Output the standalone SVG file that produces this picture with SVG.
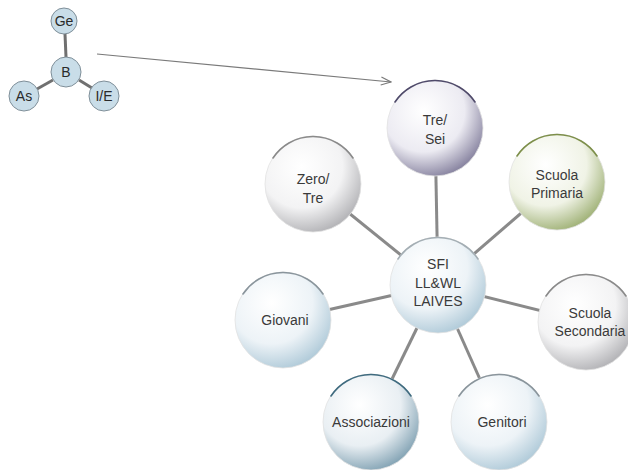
<svg xmlns="http://www.w3.org/2000/svg" width="628" height="470" viewBox="0 0 628 470">
<defs>
<radialGradient id="gGray" cx="38%" cy="32%" r="78%"><stop offset="0" stop-color="#ffffff"/><stop offset="0.55" stop-color="#f3f3f4"/><stop offset="1" stop-color="#a4a4a8"/></radialGradient>
<radialGradient id="gPurple" cx="38%" cy="32%" r="78%"><stop offset="0" stop-color="#ffffff"/><stop offset="0.55" stop-color="#ecebf2"/><stop offset="1" stop-color="#6f6a8c"/></radialGradient>
<radialGradient id="gGreen" cx="38%" cy="32%" r="78%"><stop offset="0" stop-color="#ffffff"/><stop offset="0.55" stop-color="#f0f3e6"/><stop offset="1" stop-color="#8ea35e"/></radialGradient>
<radialGradient id="gBlue" cx="38%" cy="32%" r="78%"><stop offset="0" stop-color="#ffffff"/><stop offset="0.55" stop-color="#edf3f7"/><stop offset="1" stop-color="#a2c1d2"/></radialGradient>
<radialGradient id="gTeal" cx="38%" cy="32%" r="78%"><stop offset="0" stop-color="#ffffff"/><stop offset="0.55" stop-color="#e9eff3"/><stop offset="1" stop-color="#6c92a6"/></radialGradient>
<marker id="arr" markerWidth="12" markerHeight="10" refX="11" refY="5" orient="auto" markerUnits="userSpaceOnUse"><path d="M1,1 L11,5 L1,9" fill="none" stroke="#7a7a7a" stroke-width="1.2"/></marker>
</defs>
<style>
.t{font-family:"Liberation Sans",Arial,sans-serif;font-size:14px;fill:#3a3a3a;text-anchor:middle}
.s{font-family:"Liberation Sans",Arial,sans-serif;font-size:14px;fill:#2a2a2a;text-anchor:middle}
.big{stroke:#e2e2e2;stroke-width:0.8}
.arc{fill:none;stroke-width:1.6;stroke-linecap:round}
.small{fill:#c9dde8;stroke:#7f8f99;stroke-width:1}
.sc{stroke:#707070;stroke-width:3}
.bc{stroke:#8a8a8a;stroke-width:3}
</style>
<rect width="628" height="470" fill="#ffffff"/>
<g id="connectors">
<line class="sc" x1="65" y1="34" x2="66" y2="57"/>
<line class="sc" x1="53" y1="80" x2="37" y2="89"/>
<line class="sc" x1="79" y1="80" x2="92" y2="88"/>
<line x1="97" y1="54" x2="391" y2="82" stroke="#7a7a7a" stroke-width="1.2" marker-end="url(#arr)"/>
<line class="bc" x1="438" y1="285" x2="435" y2="128"/>
<line class="bc" x1="438" y1="285" x2="557" y2="182"/>
<line class="bc" x1="438" y1="285" x2="313" y2="184"/>
<line class="bc" x1="438" y1="285" x2="586" y2="322"/>
<line class="bc" x1="438" y1="285" x2="283" y2="320"/>
<line class="bc" x1="438" y1="285" x2="371" y2="422"/>
<line class="bc" x1="438" y1="285" x2="499" y2="422"/>
</g>
<g id="ge"><circle class="small" cx="64" cy="21" r="13"/><text class="s" x="64" y="26">Ge</text></g>
<g id="b"><circle class="small" cx="66" cy="72" r="15"/><text class="s" x="66" y="77">B</text></g>
<g id="as"><circle class="small" cx="24" cy="96" r="15"/><text class="s" x="24" y="101">As</text></g>
<g id="ie"><circle class="small" cx="104" cy="96" r="15"/><text class="s" x="104" y="101">I/E</text></g>
<g id="tresei"><circle class="big" cx="435" cy="128" r="48" fill="url(#gPurple)"/><path class="arc" stroke="#4f4a6a" d="M395,102 A48,48 0 0 1 475,102"/><text class="t" x="435" y="125">Tre/</text><text class="t" x="435" y="144">Sei</text></g>
<g id="primaria"><circle class="big" cx="557" cy="182" r="48" fill="url(#gGreen)"/><path class="arc" stroke="#7d8f4a" d="M517,156 A48,48 0 0 1 597,156"/><text class="t" x="557" y="180">Scuola</text><text class="t" x="557" y="198">Primaria</text></g>
<g id="zerotre"><circle class="big" cx="313" cy="184" r="48" fill="url(#gGray)"/><path class="arc" stroke="#8a8a8a" stroke-width="1" d="M273,158 A48,48 0 0 1 353,158"/><text class="t" x="313" y="184">Zero/</text><text class="t" x="313" y="203">Tre</text></g>
<g id="sfi"><circle class="big" cx="438" cy="285" r="48" fill="url(#gBlue)"/><path class="arc" stroke="#a4aeb4" stroke-width="1" d="M398,259 A48,48 0 0 1 478,259"/><text class="t" x="438" y="269">SFI</text><text class="t" x="438" y="288">LL&amp;WL</text><text class="t" x="438" y="306">LAIVES</text></g>
<g id="secondaria"><circle class="big" cx="586" cy="322" r="48" fill="url(#gGray)"/><path class="arc" stroke="#8a8a8a" stroke-width="1" d="M546,296 A48,48 0 0 1 626,296"/><text class="t" x="590" y="318">Scuola</text><text class="t" x="590" y="336">Secondaria</text></g>
<g id="giovani"><circle class="big" cx="283" cy="320" r="48" fill="url(#gBlue)"/><path class="arc" stroke="#8a959c" stroke-width="1" d="M243,294 A48,48 0 0 1 323,294"/><text class="t" x="285" y="325">Giovani</text></g>
<g id="associazioni"><circle class="big" cx="371" cy="422" r="48" fill="url(#gTeal)"/><path class="arc" stroke="#3f6b7f" d="M331,396 A48,48 0 0 1 411,396"/><text class="t" x="371" y="427">Associazioni</text></g>
<g id="genitori"><circle class="big" cx="499" cy="422" r="48" fill="url(#gBlue)"/><path class="arc" stroke="#8a959c" stroke-width="1" d="M459,396 A48,48 0 0 1 539,396"/><text class="t" x="502" y="427">Genitori</text></g>
</svg>
